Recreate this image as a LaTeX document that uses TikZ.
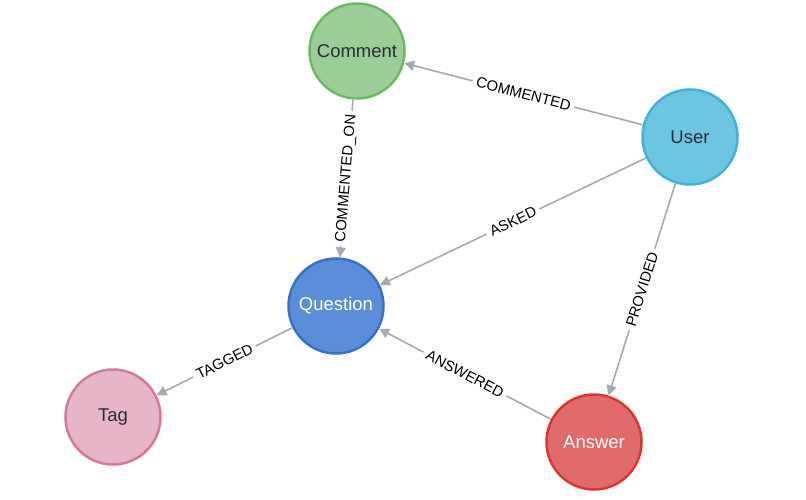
\documentclass[tikz,border=0pt]{standalone}
\usepackage{fontspec}
\setmainfont{Liberation Sans}
\usetikzlibrary{arrows.meta}
\definecolor{edgegray}{HTML}{A5ABB6}
\definecolor{cmtfill}{HTML}{9BCE96}
\definecolor{cmtline}{HTML}{6CBA67}
\definecolor{usrfill}{HTML}{6CC6E2}
\definecolor{usrline}{HTML}{44B1D6}
\definecolor{qfill}{HTML}{5A8DDA}
\definecolor{qline}{HTML}{3B72C6}
\definecolor{tagfill}{HTML}{E6B6C8}
\definecolor{tagline}{HTML}{D27A9C}
\definecolor{ansfill}{HTML}{E16B6B}
\definecolor{ansline}{HTML}{DA3633}
\definecolor{ntext}{HTML}{2A2C34}
\begin{document}
\begin{tikzpicture}[x=1pt,y=-1pt,
  nd/.style={circle, minimum size=95pt, inner sep=0pt, line width=2.5pt, text=ntext,
    font=\fontsize{18.5}{22}\selectfont},
  rel/.style={draw=edgegray, line width=1.6pt, -{Triangle[length=10pt,width=10pt]}},
  lbl/.style={sloped, midway, fill=white, inner sep=4pt, text=black,
    font=\fontsize{14.8}{17}\selectfont}]
\useasboundingbox (0,0) rectangle (806,500);
\node[nd, fill=cmtfill, draw=cmtline] (comment) at (357,51) {Comment};
\node[nd, fill=usrfill, draw=usrline] (user) at (690,137) {User};
\node[nd, fill=qfill, draw=qline, text=white] (question) at (336,306) {Question};
\node[nd, fill=tagfill, draw=tagline] (tag) at (113,417) {Tag};
\node[nd, fill=ansfill, draw=ansline, text=white] (answer) at (594,442) {Answer};
\draw[rel] (user) -- node[lbl]{COMMENTED} (comment);
\draw[rel] (comment) -- node[lbl]{COMMENTED\_ON} (question);
\draw[rel] (user) -- node[lbl]{ASKED} (question);
\draw[rel] (user) -- node[lbl]{PROVIDED} (answer);
\draw[rel] (answer) -- node[lbl]{ANSWERED} (question);
\draw[rel] (question) -- node[lbl]{TAGGED} (tag);
\end{tikzpicture}
\end{document}
